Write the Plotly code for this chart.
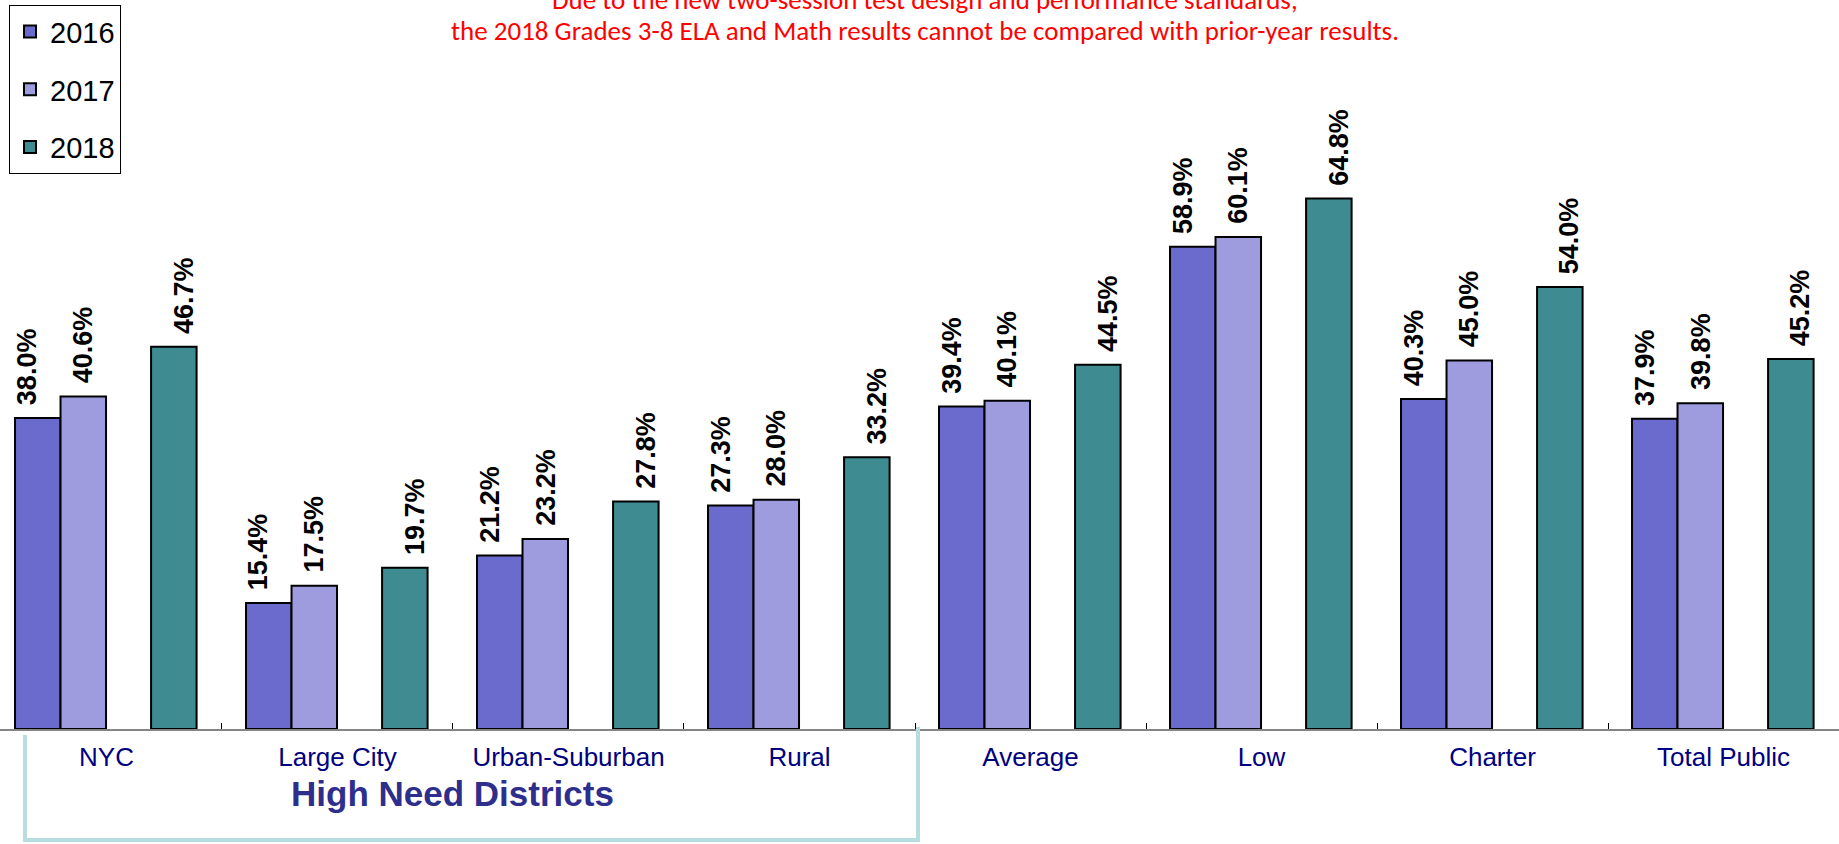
import plotly.graph_objects as go

# Grades 3-8 proficiency by need/resource category
categories = ["NYC", "Large City", "Urban-Suburban", "Rural",
              "Average", "Low", "Charter", "Total Public"]
years = ["2016", "2017", "2018"]
pct_2016 = [38.0, 15.4, 21.2, 27.3, 39.4, 58.9, 40.3, 37.9]
pct_2017 = [40.6, 17.5, 23.2, 28.0, 40.1, 60.1, 45.0, 39.8]
pct_2018 = [46.7, 19.7, 27.8, 33.2, 44.5, 64.8, 54.0, 45.2]
notice_lines = [
    "Due to the new two-session test design and performance standards,",
    "the 2018 Grades 3-8 ELA and Math results cannot be compared with prior-year results.",
]
group_label = "High Need Districts"

series = dict(zip(years, [pct_2016, pct_2017, pct_2018]))
colors = {"2016": "#6B6BCD", "2017": "#9E9CDE", "2018": "#3E8C91"}
# bar placement inside each category (2017 and 2018 separated by an empty slot)
bar_w = 0.197
offsets = {"2016": -0.396, "2017": -0.199, "2018": 0.193}
label_dx = {"2016": -10, "2017": 0, "2018": 10}

fig = go.Figure()
annotations = []
for yr in years:
    fig.add_trace(go.Bar(
        x=categories,
        y=series[yr],
        name=yr,
        legendgroup=yr,
        width=bar_w,
        offset=offsets[yr],
        marker=dict(color=colors[yr], line=dict(color="black", width=2)),
        hoverinfo="x+y",
    ))
    for i, v in enumerate(series[yr]):
        annotations.append(dict(
            x=i + offsets[yr] + bar_w / 2, y=v, xref="x", yref="y",
            text=f"{v:.1f}%", textangle=-90, showarrow=False,
            xanchor="center", yanchor="bottom", yshift=11, xshift=label_dx[yr],
            font=dict(family="Arial", size=27, color="black", weight="bold"),
        ))

title_font = dict(family="Carlito, 'Liberation Sans Narrow', 'Open Sans', sans-serif",
                  size=27, color="#FF0000")
for line, ypos in zip(notice_lines, [1.1145, 1.0657]):
    annotations.append(dict(
        x=0.503, y=ypos, xref="paper", yref="paper", text=line,
        showarrow=False, xanchor="center", yanchor="middle", font=title_font,
    ))

annotations.append(dict(
    x=1.5, y=-0.0985, xref="x", yref="paper", text=group_label,
    showarrow=False, xanchor="center", yanchor="middle",
    font=dict(family="Arial", size=35, color="#2E2E8C", weight="bold"),
))

# bracket under the high need district groups
fig.add_shape(
    type="path", xref="x", yref="paper",
    path="M -0.353,-0.009 L -0.353,-0.1695 L 3.513,-0.1695 L 3.513,0.003",
    line=dict(color="#B7DDE0", width=4),
)

fig.update_layout(
    width=1839,
    height=844,
    autosize=False,
    barmode="overlay",
    paper_bgcolor="white",
    plot_bgcolor="white",
    margin=dict(l=0, r=0, t=74, b=115),
    annotations=annotations,
    xaxis=dict(
        range=[-0.461, 7.5],
        showgrid=False,
        zeroline=False,
        showline=True,
        linecolor="#858585",
        linewidth=1.5,
        ticks="inside",
        tickson="boundaries",
        ticklen=6,
        tickwidth=1,
        tickcolor="black",
        ticklabelstandoff=4,
        tickfont=dict(family="Arial", size=26, color="#000080"),
    ),
    yaxis=dict(range=[0, 80], visible=False),
    legend=dict(
        x=0.0049, y=1.105, xanchor="left", yanchor="top",
        bgcolor="white", bordercolor="black", borderwidth=1,
        font=dict(family="Arial", size=29, color="black"),
        tracegroupgap=17,
    ),
    showlegend=True,
)

fig.write_html(
    "out.html",
    config={"displayModeBar": False},
    post_script="document.body.style.margin = '0';",
)
